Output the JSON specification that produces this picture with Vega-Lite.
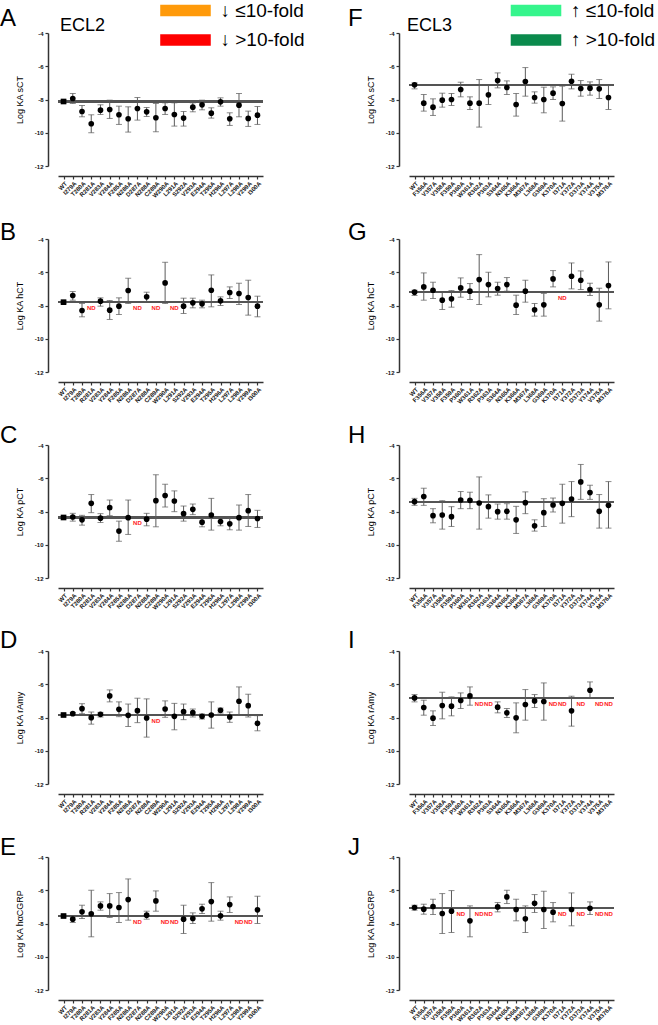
{
"$schema":"https://vega.github.io/schema/vega-lite/v6.json",
"padding":{"left":0,"top":1,"right":0,"bottom":0},
"config":{"view":{"stroke":null},"font":"Liberation Sans",
"axis":{"domainColor":"#333333","domainWidth":1.5,"tickColor":"#333333","tickWidth":1.2,"tickSize":3,"labelFont":"Liberation Sans","labelFontSize":6,"labelFontWeight":"bold","labelColor":"#111111","grid":false,"titleFont":"Liberation Sans","titleFontWeight":"normal","titleColor":"black","offset":10},
"axisX":{"labelAngle":-45,"labelPadding":1},
"axisY":{"labelPadding":2,"titleFontSize":9,"titlePadding":10,"labelOverlap":false},
"title":{"anchor":"start","frame":"group","baseline":"alphabetic","fontSize":24,"fontWeight":"normal","font":"Liberation Sans","color":"black","offset":0}},
"bounds":"flush",
"columns":2,
"spacing":{"row":73,"column":146},
"concat":[
{"width":205,"height":133,"title":{"text":"A","dx":-58,"dy":5},
"data":{"values":[{"mutant":"WT","logKA":-8.12,"lower":-8.2,"upper":-8.04},{"mutant":"I279A","logKA":-7.94,"lower":-8.24,"upper":-7.64},{"mutant":"T280A","logKA":-8.72,"lower":-9.04,"upper":-8.36},{"mutant":"R281A","logKA":-9.46,"lower":-10.0,"upper":-8.92},{"mutant":"V283A","logKA":-8.64,"lower":-8.9,"upper":-8.32},{"mutant":"Y284A","logKA":-8.6,"lower":-9.14,"upper":-8.04},{"mutant":"F285A","logKA":-8.92,"lower":-9.5,"upper":-8.4},{"mutant":"N286A","logKA":-9.16,"lower":-9.96,"upper":-8.44},{"mutant":"D287A","logKA":-8.54,"lower":-9.24,"upper":-7.88},{"mutant":"N288A","logKA":-8.74,"lower":-9.02,"upper":-8.48},{"mutant":"C289A","logKA":-9.1,"lower":-9.94,"upper":-8.24},{"mutant":"W290A","logKA":-8.54,"lower":-8.9,"upper":-8.2},{"mutant":"L291A","logKA":-8.9,"lower":-9.6,"upper":-8.2},{"mutant":"S292A","logKA":-9.12,"lower":-9.6,"upper":-8.72},{"mutant":"V293A","logKA":-8.46,"lower":-8.74,"upper":-8.2},{"mutant":"E294A","logKA":-8.32,"lower":-8.62,"upper":-8.04},{"mutant":"T295A","logKA":-8.82,"lower":-9.12,"upper":-8.5},{"mutant":"H296A","logKA":-8.14,"lower":-8.4,"upper":-7.9},{"mutant":"L297A","logKA":-9.16,"lower":-9.56,"upper":-8.8},{"mutant":"L298A","logKA":-8.34,"lower":-9.04,"upper":-7.64},{"mutant":"Y299A","logKA":-9.14,"lower":-9.62,"upper":-8.7},{"mutant":"I300A","logKA":-8.94,"lower":-9.5,"upper":-8.42}]},
"layer":[
{"mark":{"type":"rule","color":"#555555","strokeWidth":1.3},"encoding":{"y":{"datum":-8.12,"type":"quantitative"}}},
{"transform":[{"filter":"isValid(datum.lower)"}],"mark":{"type":"errorbar","thickness":1,"color":"#5a5a5a","ticks":{"size":6,"color":"#5a5a5a"}},"encoding":{"x":{"field":"mutant","type":"nominal","title":null,"scale":{"type":"point","padding":0.6,"domain":["WT","I279A","T280A","R281A","V283A","Y284A","F285A","N286A","D287A","N288A","C289A","W290A","L291A","S292A","V293A","E294A","T295A","H296A","L297A","L298A","Y299A","I300A"]}},"y":{"field":"lower","type":"quantitative","title":"Log KA sCT"},"y2":{"field":"upper"}}},
{"transform":[{"filter":"isValid(datum.logKA)"}],"mark":{"type":"point","filled":true,"size":32,"color":"black","opacity":1},"encoding":{"x":{"field":"mutant","type":"nominal","title":null,"scale":{"type":"point","padding":0.6,"domain":["WT","I279A","T280A","R281A","V283A","Y284A","F285A","N286A","D287A","N288A","C289A","W290A","L291A","S292A","V293A","E294A","T295A","H296A","L297A","L298A","Y299A","I300A"]}},"y":{"field":"logKA","type":"quantitative","title":"Log KA sCT","scale":{"domain":[-12,-4],"nice":false,"zero":false},"axis":{"title":"Log KA sCT","values":[-12,-10,-8,-6,-4],"tickCount":5,"labelOverlap":false,"labelExpr":"'-' + abs(datum.value)"}},"shape":{"condition":{"test":"datum.mutant === 'WT'","value":"square"},"value":"circle"}}},
{"data":{"values":[{"cls":"↓ ≤10-fold"},{"cls":"↓ >10-fold"}]},"mark":{"type":"point","filled":true,"opacity":0},"encoding":{"color":{"field":"cls","type":"nominal","scale":{"domain":["↓ ≤10-fold","↓ >10-fold"],"range":["#FF9A0A","#FF0000"]},"legend":{"title":"ECL2","orient":"none","legendX":2,"legendY":-32,"titleOrient":"left","titleAnchor":"middle","titleBaseline":"middle","titleFontSize":18,"titleFont":"Liberation Sans","titleFontWeight":"normal","titleColor":"black","titlePadding":70,"symbolType":"M-4.4,-1H4.4V1H-4.4Z","symbolSize":132,"symbolStrokeWidth":0,"symbolOpacity":1,"labelFontSize":19,"labelFont":"Liberation Sans","labelColor":"black","labelOffset":25.5,"rowPadding":9.5,"labelLimit":300}}}}
]},
{"width":205,"height":133,"title":{"text":"F","dx":-61,"dy":5},
"data":{"values":[{"mutant":"WT","logKA":-7.12,"lower":-7.36,"upper":-7.0},{"mutant":"F356A","logKA":-8.22,"lower":-8.7,"upper":-7.7},{"mutant":"V357A","logKA":-8.46,"lower":-8.96,"upper":-7.96},{"mutant":"V358A","logKA":-8.04,"lower":-8.46,"upper":-7.62},{"mutant":"F359A","logKA":-8.0,"lower":-8.36,"upper":-7.64},{"mutant":"P360A","logKA":-7.4,"lower":-7.84,"upper":-6.96},{"mutant":"W361A","logKA":-8.22,"lower":-8.6,"upper":-7.84},{"mutant":"R362A","logKA":-8.22,"lower":-9.66,"upper":-6.8},{"mutant":"P363A","logKA":-7.72,"lower":-8.3,"upper":-7.12},{"mutant":"S364A","logKA":-6.86,"lower":-7.3,"upper":-6.4},{"mutant":"N365A","logKA":-7.28,"lower":-7.7,"upper":-6.88},{"mutant":"K366A","logKA":-8.3,"lower":-9.0,"upper":-7.64},{"mutant":"M367A","logKA":-6.92,"lower":-7.8,"upper":-6.08},{"mutant":"L368A","logKA":-7.88,"lower":-8.22,"upper":-7.54},{"mutant":"G369A","logKA":-8.0,"lower":-8.8,"upper":-7.26},{"mutant":"K370A","logKA":-7.62,"lower":-8.0,"upper":-7.24},{"mutant":"I371A","logKA":-8.24,"lower":-9.3,"upper":-7.2},{"mutant":"Y372A","logKA":-6.9,"lower":-7.36,"upper":-6.48},{"mutant":"D373A","logKA":-7.34,"lower":-7.8,"upper":-6.86},{"mutant":"Y374A","logKA":-7.32,"lower":-7.74,"upper":-6.94},{"mutant":"V375A","logKA":-7.36,"lower":-7.94,"upper":-6.8},{"mutant":"M376A","logKA":-7.88,"lower":-8.6,"upper":-7.16}]},
"layer":[
{"mark":{"type":"rule","color":"#555555","strokeWidth":1.3},"encoding":{"y":{"datum":-7.12,"type":"quantitative"}}},
{"transform":[{"filter":"isValid(datum.lower)"}],"mark":{"type":"errorbar","thickness":1,"color":"#5a5a5a","ticks":{"size":6,"color":"#5a5a5a"}},"encoding":{"x":{"field":"mutant","type":"nominal","title":null,"scale":{"type":"point","padding":0.6,"domain":["WT","F356A","V357A","V358A","F359A","P360A","W361A","R362A","P363A","S364A","N365A","K366A","M367A","L368A","G369A","K370A","I371A","Y372A","D373A","Y374A","V375A","M376A"]}},"y":{"field":"lower","type":"quantitative","title":"Log KA sCT"},"y2":{"field":"upper"}}},
{"transform":[{"filter":"isValid(datum.logKA)"}],"mark":{"type":"point","filled":true,"size":32,"color":"black","opacity":1},"encoding":{"x":{"field":"mutant","type":"nominal","title":null,"scale":{"type":"point","padding":0.6,"domain":["WT","F356A","V357A","V358A","F359A","P360A","W361A","R362A","P363A","S364A","N365A","K366A","M367A","L368A","G369A","K370A","I371A","Y372A","D373A","Y374A","V375A","M376A"]}},"y":{"field":"logKA","type":"quantitative","title":"Log KA sCT","scale":{"domain":[-12,-4],"nice":false,"zero":false},"axis":{"title":"Log KA sCT","values":[-12,-10,-8,-6,-4],"tickCount":5,"labelOverlap":false,"labelExpr":"'-' + abs(datum.value)"}}}},
{"data":{"values":[{"cls3":"↑ ≤10-fold"},{"cls3":"↑ >10-fold"}]},"mark":{"type":"point","filled":true,"opacity":0},"encoding":{"fill":{"field":"cls3","type":"nominal","scale":{"domain":["↑ ≤10-fold","↑ >10-fold"],"range":["#35F58C","#0A8A4C"]},"legend":{"title":"ECL3","orient":"none","legendX":349,"legendY":-32,"titleOrient":"left","titleAnchor":"middle","titleBaseline":"middle","titleFontSize":18,"titleFont":"Liberation Sans","titleFontWeight":"normal","titleColor":"black","titlePadding":73.5,"symbolType":"M-4.4,-1H4.4V1H-4.4Z","symbolSize":132,"symbolStrokeWidth":0,"symbolOpacity":1,"labelFontSize":19,"labelFont":"Liberation Sans","labelColor":"black","labelOffset":25.5,"rowPadding":9.5,"labelLimit":300}}}}
]},
{"width":205,"height":133,"title":{"text":"B","dx":-58,"dy":13},
"data":{"values":[{"mutant":"WT","logKA":-7.8,"lower":-7.86,"upper":-7.74},{"mutant":"I279A","logKA":-7.4,"lower":-7.68,"upper":-7.16},{"mutant":"T280A","logKA":-8.3,"lower":-8.68,"upper":-7.88},{"mutant":"R281A","nd":"ND"},{"mutant":"V283A","logKA":-7.74,"lower":-8.04,"upper":-7.54},{"mutant":"Y284A","logKA":-8.28,"lower":-8.84,"upper":-7.7},{"mutant":"F285A","logKA":-8.04,"lower":-8.54,"upper":-7.54},{"mutant":"N286A","logKA":-7.1,"lower":-7.88,"upper":-6.36},{"mutant":"D287A","nd":"ND"},{"mutant":"N288A","logKA":-7.48,"lower":-7.76,"upper":-7.2},{"mutant":"C289A","nd":"ND"},{"mutant":"W290A","logKA":-6.64,"lower":-7.88,"upper":-5.4},{"mutant":"L291A","nd":"ND"},{"mutant":"S292A","logKA":-8.04,"lower":-8.48,"upper":-7.56},{"mutant":"V293A","logKA":-7.84,"lower":-8.14,"upper":-7.56},{"mutant":"E294A","logKA":-7.9,"lower":-8.14,"upper":-7.68},{"mutant":"T295A","logKA":-7.08,"lower":-8.08,"upper":-6.16},{"mutant":"H296A","logKA":-7.72,"lower":-8.0,"upper":-7.48},{"mutant":"L297A","logKA":-7.22,"lower":-7.58,"upper":-6.88},{"mutant":"L298A","logKA":-7.28,"lower":-7.94,"upper":-6.66},{"mutant":"Y299A","logKA":-7.52,"lower":-8.58,"upper":-6.48},{"mutant":"I300A","logKA":-8.04,"lower":-8.68,"upper":-7.44}]},
"layer":[
{"mark":{"type":"rule","color":"#555555","strokeWidth":1.3},"encoding":{"y":{"datum":-7.8,"type":"quantitative"}}},
{"transform":[{"filter":"isValid(datum.lower)"}],"mark":{"type":"errorbar","thickness":1,"color":"#5a5a5a","ticks":{"size":6,"color":"#5a5a5a"}},"encoding":{"x":{"field":"mutant","type":"nominal","title":null,"scale":{"type":"point","padding":0.6,"domain":["WT","I279A","T280A","R281A","V283A","Y284A","F285A","N286A","D287A","N288A","C289A","W290A","L291A","S292A","V293A","E294A","T295A","H296A","L297A","L298A","Y299A","I300A"]}},"y":{"field":"lower","type":"quantitative","title":"Log KA hCT"},"y2":{"field":"upper"}}},
{"transform":[{"filter":"isValid(datum.logKA)"}],"mark":{"type":"point","filled":true,"size":32,"color":"black","opacity":1},"encoding":{"x":{"field":"mutant","type":"nominal","title":null,"scale":{"type":"point","padding":0.6,"domain":["WT","I279A","T280A","R281A","V283A","Y284A","F285A","N286A","D287A","N288A","C289A","W290A","L291A","S292A","V293A","E294A","T295A","H296A","L297A","L298A","Y299A","I300A"]}},"y":{"field":"logKA","type":"quantitative","title":"Log KA hCT","scale":{"domain":[-12,-4],"nice":false,"zero":false},"axis":{"title":"Log KA hCT","values":[-12,-10,-8,-6,-4],"tickCount":5,"labelOverlap":false,"labelExpr":"'-' + abs(datum.value)"}},"shape":{"condition":{"test":"datum.mutant === 'WT'","value":"square"},"value":"circle"}}},
{"transform":[{"filter":"isValid(datum.nd)"}],"mark":{"type":"text","color":"#FF1A1A","fontWeight":"bold","fontSize":6,"dy":6,"font":"Liberation Sans"},"encoding":{"x":{"field":"mutant","type":"nominal","title":null,"scale":{"type":"point","padding":0.6,"domain":["WT","I279A","T280A","R281A","V283A","Y284A","F285A","N286A","D287A","N288A","C289A","W290A","L291A","S292A","V293A","E294A","T295A","H296A","L297A","L298A","Y299A","I300A"]}},"y":{"datum":-7.8,"type":"quantitative"},"text":{"field":"nd"}}}
]},
{"width":205,"height":133,"title":{"text":"G","dx":-61,"dy":13},
"data":{"values":[{"mutant":"WT","logKA":-7.2,"lower":-7.4,"upper":-7.08},{"mutant":"F356A","logKA":-6.88,"lower":-7.68,"upper":-6.04},{"mutant":"V357A","logKA":-7.08,"lower":-7.58,"upper":-6.6},{"mutant":"V358A","logKA":-7.68,"lower":-8.24,"upper":-7.2},{"mutant":"F359A","logKA":-7.6,"lower":-8.1,"upper":-7.1},{"mutant":"P360A","logKA":-6.94,"lower":-7.5,"upper":-6.34},{"mutant":"W361A","logKA":-7.14,"lower":-7.64,"upper":-6.68},{"mutant":"R362A","logKA":-6.44,"lower":-7.94,"upper":-4.94},{"mutant":"P363A","logKA":-6.74,"lower":-7.48,"upper":-6.0},{"mutant":"S364A","logKA":-6.98,"lower":-7.38,"upper":-6.6},{"mutant":"N365A","logKA":-6.74,"lower":-7.14,"upper":-6.32},{"mutant":"K366A","logKA":-7.98,"lower":-8.54,"upper":-7.38},{"mutant":"M367A","logKA":-7.14,"lower":-7.8,"upper":-6.48},{"mutant":"L368A","logKA":-8.26,"lower":-8.64,"upper":-7.88},{"mutant":"G369A","logKA":-7.96,"lower":-8.64,"upper":-7.28},{"mutant":"K370A","logKA":-6.4,"lower":-6.88,"upper":-5.9},{"mutant":"I371A","nd":"ND"},{"mutant":"Y372A","logKA":-6.24,"lower":-7.0,"upper":-5.44},{"mutant":"D373A","logKA":-6.48,"lower":-7.04,"upper":-5.92},{"mutant":"Y374A","logKA":-7.04,"lower":-7.4,"upper":-6.66},{"mutant":"V375A","logKA":-7.96,"lower":-8.94,"upper":-6.96},{"mutant":"M376A","logKA":-6.8,"lower":-8.2,"upper":-5.38}]},
"layer":[
{"mark":{"type":"rule","color":"#555555","strokeWidth":1.3},"encoding":{"y":{"datum":-7.2,"type":"quantitative"}}},
{"transform":[{"filter":"isValid(datum.lower)"}],"mark":{"type":"errorbar","thickness":1,"color":"#5a5a5a","ticks":{"size":6,"color":"#5a5a5a"}},"encoding":{"x":{"field":"mutant","type":"nominal","title":null,"scale":{"type":"point","padding":0.6,"domain":["WT","F356A","V357A","V358A","F359A","P360A","W361A","R362A","P363A","S364A","N365A","K366A","M367A","L368A","G369A","K370A","I371A","Y372A","D373A","Y374A","V375A","M376A"]}},"y":{"field":"lower","type":"quantitative","title":"Log KA hCT"},"y2":{"field":"upper"}}},
{"transform":[{"filter":"isValid(datum.logKA)"}],"mark":{"type":"point","filled":true,"size":32,"color":"black","opacity":1},"encoding":{"x":{"field":"mutant","type":"nominal","title":null,"scale":{"type":"point","padding":0.6,"domain":["WT","F356A","V357A","V358A","F359A","P360A","W361A","R362A","P363A","S364A","N365A","K366A","M367A","L368A","G369A","K370A","I371A","Y372A","D373A","Y374A","V375A","M376A"]}},"y":{"field":"logKA","type":"quantitative","title":"Log KA hCT","scale":{"domain":[-12,-4],"nice":false,"zero":false},"axis":{"title":"Log KA hCT","values":[-12,-10,-8,-6,-4],"tickCount":5,"labelOverlap":false,"labelExpr":"'-' + abs(datum.value)"}}}},
{"transform":[{"filter":"isValid(datum.nd)"}],"mark":{"type":"text","color":"#FF1A1A","fontWeight":"bold","fontSize":6,"dy":6,"font":"Liberation Sans"},"encoding":{"x":{"field":"mutant","type":"nominal","title":null,"scale":{"type":"point","padding":0.6,"domain":["WT","F356A","V357A","V358A","F359A","P360A","W361A","R362A","P363A","S364A","N365A","K366A","M367A","L368A","G369A","K370A","I371A","Y372A","D373A","Y374A","V375A","M376A"]}},"y":{"datum":-7.2,"type":"quantitative"},"text":{"field":"nd"}}}
]},
{"width":205,"height":133,"title":{"text":"C","dx":-58,"dy":10},
"data":{"values":[{"mutant":"WT","logKA":-8.36,"lower":-8.42,"upper":-8.3},{"mutant":"I279A","logKA":-8.33,"lower":-8.58,"upper":-8.11},{"mutant":"T280A","logKA":-8.5,"lower":-8.82,"upper":-8.23},{"mutant":"R281A","logKA":-7.51,"lower":-8.07,"upper":-6.98},{"mutant":"V283A","logKA":-8.4,"lower":-8.66,"upper":-8.13},{"mutant":"Y284A","logKA":-7.77,"lower":-8.25,"upper":-7.31},{"mutant":"F285A","logKA":-9.18,"lower":-9.79,"upper":-8.58},{"mutant":"N286A","logKA":-8.37,"lower":-9.38,"upper":-7.31},{"mutant":"D287A","nd":"ND"},{"mutant":"N288A","logKA":-8.46,"lower":-8.86,"upper":-8.11},{"mutant":"C289A","logKA":-7.35,"lower":-8.92,"upper":-5.79},{"mutant":"W290A","logKA":-7.04,"lower":-7.73,"upper":-6.36},{"mutant":"L291A","logKA":-7.37,"lower":-8.01,"upper":-6.76},{"mutant":"S292A","logKA":-8.13,"lower":-8.58,"upper":-7.67},{"mutant":"V293A","logKA":-7.87,"lower":-8.19,"upper":-7.55},{"mutant":"E294A","logKA":-8.64,"lower":-8.92,"upper":-8.4},{"mutant":"T295A","logKA":-8.21,"lower":-9.12,"upper":-7.21},{"mutant":"H296A","logKA":-8.6,"lower":-8.86,"upper":-8.37},{"mutant":"L297A","logKA":-8.74,"lower":-9.1,"upper":-8.38},{"mutant":"L298A","logKA":-8.37,"lower":-9.12,"upper":-7.61},{"mutant":"Y299A","logKA":-7.95,"lower":-8.9,"upper":-6.98},{"mutant":"I300A","logKA":-8.42,"lower":-8.96,"upper":-7.93}]},
"layer":[
{"mark":{"type":"rule","color":"#555555","strokeWidth":1.3},"encoding":{"y":{"datum":-8.36,"type":"quantitative"}}},
{"transform":[{"filter":"isValid(datum.lower)"}],"mark":{"type":"errorbar","thickness":1,"color":"#5a5a5a","ticks":{"size":6,"color":"#5a5a5a"}},"encoding":{"x":{"field":"mutant","type":"nominal","title":null,"scale":{"type":"point","padding":0.6,"domain":["WT","I279A","T280A","R281A","V283A","Y284A","F285A","N286A","D287A","N288A","C289A","W290A","L291A","S292A","V293A","E294A","T295A","H296A","L297A","L298A","Y299A","I300A"]}},"y":{"field":"lower","type":"quantitative","title":"Log KA pCT"},"y2":{"field":"upper"}}},
{"transform":[{"filter":"isValid(datum.logKA)"}],"mark":{"type":"point","filled":true,"size":32,"color":"black","opacity":1},"encoding":{"x":{"field":"mutant","type":"nominal","title":null,"scale":{"type":"point","padding":0.6,"domain":["WT","I279A","T280A","R281A","V283A","Y284A","F285A","N286A","D287A","N288A","C289A","W290A","L291A","S292A","V293A","E294A","T295A","H296A","L297A","L298A","Y299A","I300A"]}},"y":{"field":"logKA","type":"quantitative","title":"Log KA pCT","scale":{"domain":[-12,-4],"nice":false,"zero":false},"axis":{"title":"Log KA pCT","values":[-12,-10,-8,-6,-4],"tickCount":5,"labelOverlap":false,"labelExpr":"'-' + abs(datum.value)"}},"shape":{"condition":{"test":"datum.mutant === 'WT'","value":"square"},"value":"circle"}}},
{"transform":[{"filter":"isValid(datum.nd)"}],"mark":{"type":"text","color":"#FF1A1A","fontWeight":"bold","fontSize":6,"dy":6,"font":"Liberation Sans"},"encoding":{"x":{"field":"mutant","type":"nominal","title":null,"scale":{"type":"point","padding":0.6,"domain":["WT","I279A","T280A","R281A","V283A","Y284A","F285A","N286A","D287A","N288A","C289A","W290A","L291A","S292A","V293A","E294A","T295A","H296A","L297A","L298A","Y299A","I300A"]}},"y":{"datum":-8.36,"type":"quantitative"},"text":{"field":"nd"}}}
]},
{"width":205,"height":133,"title":{"text":"H","dx":-61,"dy":10},
"data":{"values":[{"mutant":"WT","logKA":-7.41,"lower":-7.63,"upper":-7.21},{"mutant":"F356A","logKA":-7.1,"lower":-7.63,"upper":-6.6},{"mutant":"V357A","logKA":-8.25,"lower":-8.68,"upper":-7.83},{"mutant":"V358A","logKA":-8.21,"lower":-9.06,"upper":-7.35},{"mutant":"F359A","logKA":-8.31,"lower":-8.9,"upper":-7.71},{"mutant":"P360A","logKA":-7.31,"lower":-7.83,"upper":-6.8},{"mutant":"W361A","logKA":-7.33,"lower":-7.83,"upper":-6.84},{"mutant":"R362A","logKA":-7.49,"lower":-9.06,"upper":-5.92},{"mutant":"P363A","logKA":-7.71,"lower":-8.4,"upper":-7.0},{"mutant":"S364A","logKA":-8.01,"lower":-8.46,"upper":-7.55},{"mutant":"N365A","logKA":-7.99,"lower":-8.46,"upper":-7.53},{"mutant":"K366A","logKA":-8.5,"lower":-9.32,"upper":-7.69},{"mutant":"M367A","logKA":-7.47,"lower":-8.13,"upper":-6.82},{"mutant":"L368A","logKA":-8.86,"lower":-9.18,"upper":-8.5},{"mutant":"G369A","logKA":-8.07,"lower":-8.9,"upper":-7.23},{"mutant":"K370A","logKA":-7.61,"lower":-8.03,"upper":-7.19},{"mutant":"I371A","logKA":-7.51,"lower":-8.7,"upper":-6.36},{"mutant":"Y372A","logKA":-7.25,"lower":-8.31,"upper":-6.2},{"mutant":"D373A","logKA":-6.22,"lower":-7.27,"upper":-5.17},{"mutant":"Y374A","logKA":-6.86,"lower":-7.27,"upper":-6.42},{"mutant":"V375A","logKA":-7.99,"lower":-9.0,"upper":-6.98},{"mutant":"M376A","logKA":-7.63,"lower":-9.0,"upper":-6.2}]},
"layer":[
{"mark":{"type":"rule","color":"#555555","strokeWidth":1.3},"encoding":{"y":{"datum":-7.41,"type":"quantitative"}}},
{"transform":[{"filter":"isValid(datum.lower)"}],"mark":{"type":"errorbar","thickness":1,"color":"#5a5a5a","ticks":{"size":6,"color":"#5a5a5a"}},"encoding":{"x":{"field":"mutant","type":"nominal","title":null,"scale":{"type":"point","padding":0.6,"domain":["WT","F356A","V357A","V358A","F359A","P360A","W361A","R362A","P363A","S364A","N365A","K366A","M367A","L368A","G369A","K370A","I371A","Y372A","D373A","Y374A","V375A","M376A"]}},"y":{"field":"lower","type":"quantitative","title":"Log KA pCT"},"y2":{"field":"upper"}}},
{"transform":[{"filter":"isValid(datum.logKA)"}],"mark":{"type":"point","filled":true,"size":32,"color":"black","opacity":1},"encoding":{"x":{"field":"mutant","type":"nominal","title":null,"scale":{"type":"point","padding":0.6,"domain":["WT","F356A","V357A","V358A","F359A","P360A","W361A","R362A","P363A","S364A","N365A","K366A","M367A","L368A","G369A","K370A","I371A","Y372A","D373A","Y374A","V375A","M376A"]}},"y":{"field":"logKA","type":"quantitative","title":"Log KA pCT","scale":{"domain":[-12,-4],"nice":false,"zero":false},"axis":{"title":"Log KA pCT","values":[-12,-10,-8,-6,-4],"tickCount":5,"labelOverlap":false,"labelExpr":"'-' + abs(datum.value)"}}}}
]},
{"width":205,"height":133,"title":{"text":"D","dx":-58,"dy":9},
"data":{"values":[{"mutant":"WT","logKA":-7.85,"lower":-7.9,"upper":-7.8},{"mutant":"I279A","logKA":-7.77,"lower":-7.84,"upper":-7.7},{"mutant":"T280A","logKA":-7.47,"lower":-7.77,"upper":-7.17},{"mutant":"R281A","logKA":-8.01,"lower":-8.4,"upper":-7.67},{"mutant":"V283A","logKA":-7.81,"lower":-7.97,"upper":-7.69},{"mutant":"Y284A","logKA":-6.7,"lower":-7.06,"upper":-6.34},{"mutant":"F285A","logKA":-7.51,"lower":-7.95,"upper":-7.06},{"mutant":"N286A","logKA":-7.87,"lower":-8.54,"upper":-7.19},{"mutant":"D287A","logKA":-7.59,"lower":-8.31,"upper":-6.84},{"mutant":"N288A","logKA":-8.03,"lower":-9.18,"upper":-6.88},{"mutant":"C289A","nd":"ND"},{"mutant":"W290A","logKA":-7.49,"lower":-7.99,"upper":-7.0},{"mutant":"L291A","logKA":-7.93,"lower":-8.74,"upper":-7.15},{"mutant":"S292A","logKA":-7.65,"lower":-8.13,"upper":-7.19},{"mutant":"V293A","logKA":-7.71,"lower":-7.97,"upper":-7.49},{"mutant":"E294A","logKA":-7.93,"lower":-8.09,"upper":-7.79},{"mutant":"T295A","logKA":-7.85,"lower":-8.64,"upper":-7.06},{"mutant":"H296A","logKA":-7.57,"lower":-7.73,"upper":-7.43},{"mutant":"L297A","logKA":-7.97,"lower":-8.29,"upper":-7.67},{"mutant":"L298A","logKA":-7.02,"lower":-7.87,"upper":-6.16},{"mutant":"Y299A","logKA":-7.29,"lower":-7.97,"upper":-6.6},{"mutant":"I300A","logKA":-8.35,"lower":-8.8,"upper":-7.89}]},
"layer":[
{"mark":{"type":"rule","color":"#555555","strokeWidth":1.3},"encoding":{"y":{"datum":-7.85,"type":"quantitative"}}},
{"transform":[{"filter":"isValid(datum.lower)"}],"mark":{"type":"errorbar","thickness":1,"color":"#5a5a5a","ticks":{"size":6,"color":"#5a5a5a"}},"encoding":{"x":{"field":"mutant","type":"nominal","title":null,"scale":{"type":"point","padding":0.6,"domain":["WT","I279A","T280A","R281A","V283A","Y284A","F285A","N286A","D287A","N288A","C289A","W290A","L291A","S292A","V293A","E294A","T295A","H296A","L297A","L298A","Y299A","I300A"]}},"y":{"field":"lower","type":"quantitative","title":"Log KA rAmy"},"y2":{"field":"upper"}}},
{"transform":[{"filter":"isValid(datum.logKA)"}],"mark":{"type":"point","filled":true,"size":32,"color":"black","opacity":1},"encoding":{"x":{"field":"mutant","type":"nominal","title":null,"scale":{"type":"point","padding":0.6,"domain":["WT","I279A","T280A","R281A","V283A","Y284A","F285A","N286A","D287A","N288A","C289A","W290A","L291A","S292A","V293A","E294A","T295A","H296A","L297A","L298A","Y299A","I300A"]}},"y":{"field":"logKA","type":"quantitative","title":"Log KA rAmy","scale":{"domain":[-12,-4],"nice":false,"zero":false},"axis":{"title":"Log KA rAmy","values":[-12,-10,-8,-6,-4],"tickCount":5,"labelOverlap":false,"labelExpr":"'-' + abs(datum.value)"}},"shape":{"condition":{"test":"datum.mutant === 'WT'","value":"square"},"value":"circle"}}},
{"transform":[{"filter":"isValid(datum.nd)"}],"mark":{"type":"text","color":"#FF1A1A","fontWeight":"bold","fontSize":6,"dy":6,"font":"Liberation Sans"},"encoding":{"x":{"field":"mutant","type":"nominal","title":null,"scale":{"type":"point","padding":0.6,"domain":["WT","I279A","T280A","R281A","V283A","Y284A","F285A","N286A","D287A","N288A","C289A","W290A","L291A","S292A","V293A","E294A","T295A","H296A","L297A","L298A","Y299A","I300A"]}},"y":{"datum":-7.85,"type":"quantitative"},"text":{"field":"nd"}}}
]},
{"width":205,"height":133,"title":{"text":"I","dx":-61,"dy":9},
"data":{"values":[{"mutant":"WT","logKA":-6.82,"lower":-7.06,"upper":-6.62},{"mutant":"F356A","logKA":-7.4,"lower":-7.86,"upper":-6.96},{"mutant":"V357A","logKA":-8.04,"lower":-8.48,"upper":-7.6},{"mutant":"V358A","logKA":-7.28,"lower":-8.08,"upper":-6.48},{"mutant":"F359A","logKA":-7.32,"lower":-7.9,"upper":-6.76},{"mutant":"P360A","logKA":-6.98,"lower":-7.46,"upper":-6.52},{"mutant":"W361A","logKA":-6.7,"lower":-7.26,"upper":-6.16},{"mutant":"R362A","nd":"ND"},{"mutant":"P363A","nd":"ND"},{"mutant":"S364A","logKA":-7.38,"lower":-7.72,"upper":-7.06},{"mutant":"N365A","logKA":-7.72,"lower":-8.0,"upper":-7.46},{"mutant":"K366A","logKA":-8.02,"lower":-8.92,"upper":-7.12},{"mutant":"M367A","logKA":-7.22,"lower":-8.16,"upper":-6.32},{"mutant":"L368A","logKA":-7.0,"lower":-7.4,"upper":-6.62},{"mutant":"G369A","logKA":-7.04,"lower":-8.16,"upper":-5.92},{"mutant":"K370A","nd":"ND"},{"mutant":"I371A","nd":"ND"},{"mutant":"Y372A","logKA":-7.6,"lower":-8.52,"upper":-6.72},{"mutant":"D373A","nd":"ND"},{"mutant":"Y374A","logKA":-6.36,"lower":-6.8,"upper":-5.86},{"mutant":"V375A","nd":"ND"},{"mutant":"M376A","nd":"ND"}]},
"layer":[
{"mark":{"type":"rule","color":"#555555","strokeWidth":1.3},"encoding":{"y":{"datum":-6.82,"type":"quantitative"}}},
{"transform":[{"filter":"isValid(datum.lower)"}],"mark":{"type":"errorbar","thickness":1,"color":"#5a5a5a","ticks":{"size":6,"color":"#5a5a5a"}},"encoding":{"x":{"field":"mutant","type":"nominal","title":null,"scale":{"type":"point","padding":0.6,"domain":["WT","F356A","V357A","V358A","F359A","P360A","W361A","R362A","P363A","S364A","N365A","K366A","M367A","L368A","G369A","K370A","I371A","Y372A","D373A","Y374A","V375A","M376A"]}},"y":{"field":"lower","type":"quantitative","title":"Log KA rAmy"},"y2":{"field":"upper"}}},
{"transform":[{"filter":"isValid(datum.logKA)"}],"mark":{"type":"point","filled":true,"size":32,"color":"black","opacity":1},"encoding":{"x":{"field":"mutant","type":"nominal","title":null,"scale":{"type":"point","padding":0.6,"domain":["WT","F356A","V357A","V358A","F359A","P360A","W361A","R362A","P363A","S364A","N365A","K366A","M367A","L368A","G369A","K370A","I371A","Y372A","D373A","Y374A","V375A","M376A"]}},"y":{"field":"logKA","type":"quantitative","title":"Log KA rAmy","scale":{"domain":[-12,-4],"nice":false,"zero":false},"axis":{"title":"Log KA rAmy","values":[-12,-10,-8,-6,-4],"tickCount":5,"labelOverlap":false,"labelExpr":"'-' + abs(datum.value)"}}}},
{"transform":[{"filter":"isValid(datum.nd)"}],"mark":{"type":"text","color":"#FF1A1A","fontWeight":"bold","fontSize":6,"dy":6,"font":"Liberation Sans"},"encoding":{"x":{"field":"mutant","type":"nominal","title":null,"scale":{"type":"point","padding":0.6,"domain":["WT","F356A","V357A","V358A","F359A","P360A","W361A","R362A","P363A","S364A","N365A","K366A","M367A","L368A","G369A","K370A","I371A","Y372A","D373A","Y374A","V375A","M376A"]}},"y":{"datum":-6.82,"type":"quantitative"},"text":{"field":"nd"}}}
]},
{"width":205,"height":133,"title":{"text":"E","dx":-58,"dy":10},
"data":{"values":[{"mutant":"WT","logKA":-7.55,"lower":-7.6,"upper":-7.5},{"mutant":"I279A","logKA":-7.74,"lower":-7.94,"upper":-7.6},{"mutant":"T280A","logKA":-7.3,"lower":-7.7,"upper":-6.9},{"mutant":"R281A","logKA":-7.42,"lower":-8.8,"upper":-6.0},{"mutant":"V283A","logKA":-6.94,"lower":-7.2,"upper":-6.7},{"mutant":"Y284A","logKA":-6.94,"lower":-7.64,"upper":-6.2},{"mutant":"F285A","logKA":-7.04,"lower":-7.94,"upper":-6.14},{"mutant":"N286A","logKA":-6.56,"lower":-7.8,"upper":-5.32},{"mutant":"D287A","nd":"ND"},{"mutant":"N288A","logKA":-7.5,"lower":-7.74,"upper":-7.26},{"mutant":"C289A","logKA":-6.64,"lower":-7.26,"upper":-6.04},{"mutant":"W290A","nd":"ND"},{"mutant":"L291A","nd":"ND"},{"mutant":"S292A","logKA":-7.74,"lower":-8.6,"upper":-6.9},{"mutant":"V293A","logKA":-7.7,"lower":-8.0,"upper":-7.36},{"mutant":"E294A","logKA":-7.12,"lower":-7.4,"upper":-6.84},{"mutant":"T295A","logKA":-6.68,"lower":-7.86,"upper":-5.54},{"mutant":"H296A","logKA":-7.54,"lower":-7.8,"upper":-7.26},{"mutant":"L297A","logKA":-6.86,"lower":-7.34,"upper":-6.4},{"mutant":"L298A","nd":"ND"},{"mutant":"Y299A","nd":"ND"},{"mutant":"I300A","logKA":-7.18,"lower":-8.0,"upper":-6.36}]},
"layer":[
{"mark":{"type":"rule","color":"#555555","strokeWidth":1.3},"encoding":{"y":{"datum":-7.55,"type":"quantitative"}}},
{"transform":[{"filter":"isValid(datum.lower)"}],"mark":{"type":"errorbar","thickness":1,"color":"#5a5a5a","ticks":{"size":6,"color":"#5a5a5a"}},"encoding":{"x":{"field":"mutant","type":"nominal","title":null,"scale":{"type":"point","padding":0.6,"domain":["WT","I279A","T280A","R281A","V283A","Y284A","F285A","N286A","D287A","N288A","C289A","W290A","L291A","S292A","V293A","E294A","T295A","H296A","L297A","L298A","Y299A","I300A"]}},"y":{"field":"lower","type":"quantitative","title":"Log KA hαCGRP"},"y2":{"field":"upper"}}},
{"transform":[{"filter":"isValid(datum.logKA)"}],"mark":{"type":"point","filled":true,"size":32,"color":"black","opacity":1},"encoding":{"x":{"field":"mutant","type":"nominal","title":null,"scale":{"type":"point","padding":0.6,"domain":["WT","I279A","T280A","R281A","V283A","Y284A","F285A","N286A","D287A","N288A","C289A","W290A","L291A","S292A","V293A","E294A","T295A","H296A","L297A","L298A","Y299A","I300A"]}},"y":{"field":"logKA","type":"quantitative","title":"Log KA hαCGRP","scale":{"domain":[-12,-4],"nice":false,"zero":false},"axis":{"title":"Log KA hαCGRP","values":[-12,-10,-8,-6,-4],"tickCount":5,"labelOverlap":false,"labelExpr":"'-' + abs(datum.value)"}},"shape":{"condition":{"test":"datum.mutant === 'WT'","value":"square"},"value":"circle"}}},
{"transform":[{"filter":"isValid(datum.nd)"}],"mark":{"type":"text","color":"#FF1A1A","fontWeight":"bold","fontSize":6,"dy":6,"font":"Liberation Sans"},"encoding":{"x":{"field":"mutant","type":"nominal","title":null,"scale":{"type":"point","padding":0.6,"domain":["WT","I279A","T280A","R281A","V283A","Y284A","F285A","N286A","D287A","N288A","C289A","W290A","L291A","S292A","V293A","E294A","T295A","H296A","L297A","L298A","Y299A","I300A"]}},"y":{"datum":-7.55,"type":"quantitative"},"text":{"field":"nd"}}}
]},
{"width":205,"height":133,"title":{"text":"J","dx":-61,"dy":10},
"data":{"values":[{"mutant":"WT","logKA":-7.04,"lower":-7.2,"upper":-6.9},{"mutant":"F356A","logKA":-7.14,"lower":-7.44,"upper":-6.84},{"mutant":"V357A","logKA":-6.98,"lower":-7.46,"upper":-6.54},{"mutant":"V358A","logKA":-7.4,"lower":-8.6,"upper":-6.2},{"mutant":"F359A","logKA":-7.26,"lower":-8.54,"upper":-6.02},{"mutant":"P360A","nd":"ND"},{"mutant":"W361A","logKA":-7.84,"lower":-8.8,"upper":-6.94},{"mutant":"R362A","nd":"ND"},{"mutant":"P363A","nd":"ND"},{"mutant":"S364A","logKA":-7.0,"lower":-7.3,"upper":-6.74},{"mutant":"N365A","logKA":-6.4,"lower":-6.8,"upper":-6.0},{"mutant":"K366A","logKA":-7.16,"lower":-7.84,"upper":-6.54},{"mutant":"M367A","logKA":-7.72,"lower":-8.54,"upper":-6.94},{"mutant":"L368A","logKA":-6.78,"lower":-7.34,"upper":-6.26},{"mutant":"G369A","logKA":-7.16,"lower":-8.3,"upper":-6.06},{"mutant":"K370A","logKA":-7.32,"lower":-7.9,"upper":-6.74},{"mutant":"I371A","nd":"ND"},{"mutant":"Y372A","logKA":-7.16,"lower":-8.14,"upper":-6.16},{"mutant":"D373A","nd":"ND"},{"mutant":"Y374A","logKA":-7.08,"lower":-7.46,"upper":-6.7},{"mutant":"V375A","nd":"ND"},{"mutant":"M376A","nd":"ND"}]},
"layer":[
{"mark":{"type":"rule","color":"#555555","strokeWidth":1.3},"encoding":{"y":{"datum":-7.04,"type":"quantitative"}}},
{"transform":[{"filter":"isValid(datum.lower)"}],"mark":{"type":"errorbar","thickness":1,"color":"#5a5a5a","ticks":{"size":6,"color":"#5a5a5a"}},"encoding":{"x":{"field":"mutant","type":"nominal","title":null,"scale":{"type":"point","padding":0.6,"domain":["WT","F356A","V357A","V358A","F359A","P360A","W361A","R362A","P363A","S364A","N365A","K366A","M367A","L368A","G369A","K370A","I371A","Y372A","D373A","Y374A","V375A","M376A"]}},"y":{"field":"lower","type":"quantitative","title":"Log KA hαCGRP"},"y2":{"field":"upper"}}},
{"transform":[{"filter":"isValid(datum.logKA)"}],"mark":{"type":"point","filled":true,"size":32,"color":"black","opacity":1},"encoding":{"x":{"field":"mutant","type":"nominal","title":null,"scale":{"type":"point","padding":0.6,"domain":["WT","F356A","V357A","V358A","F359A","P360A","W361A","R362A","P363A","S364A","N365A","K366A","M367A","L368A","G369A","K370A","I371A","Y372A","D373A","Y374A","V375A","M376A"]}},"y":{"field":"logKA","type":"quantitative","title":"Log KA hαCGRP","scale":{"domain":[-12,-4],"nice":false,"zero":false},"axis":{"title":"Log KA hαCGRP","values":[-12,-10,-8,-6,-4],"tickCount":5,"labelOverlap":false,"labelExpr":"'-' + abs(datum.value)"}}}},
{"transform":[{"filter":"isValid(datum.nd)"}],"mark":{"type":"text","color":"#FF1A1A","fontWeight":"bold","fontSize":6,"dy":6,"font":"Liberation Sans"},"encoding":{"x":{"field":"mutant","type":"nominal","title":null,"scale":{"type":"point","padding":0.6,"domain":["WT","F356A","V357A","V358A","F359A","P360A","W361A","R362A","P363A","S364A","N365A","K366A","M367A","L368A","G369A","K370A","I371A","Y372A","D373A","Y374A","V375A","M376A"]}},"y":{"datum":-7.04,"type":"quantitative"},"text":{"field":"nd"}}}
]}
]
}
